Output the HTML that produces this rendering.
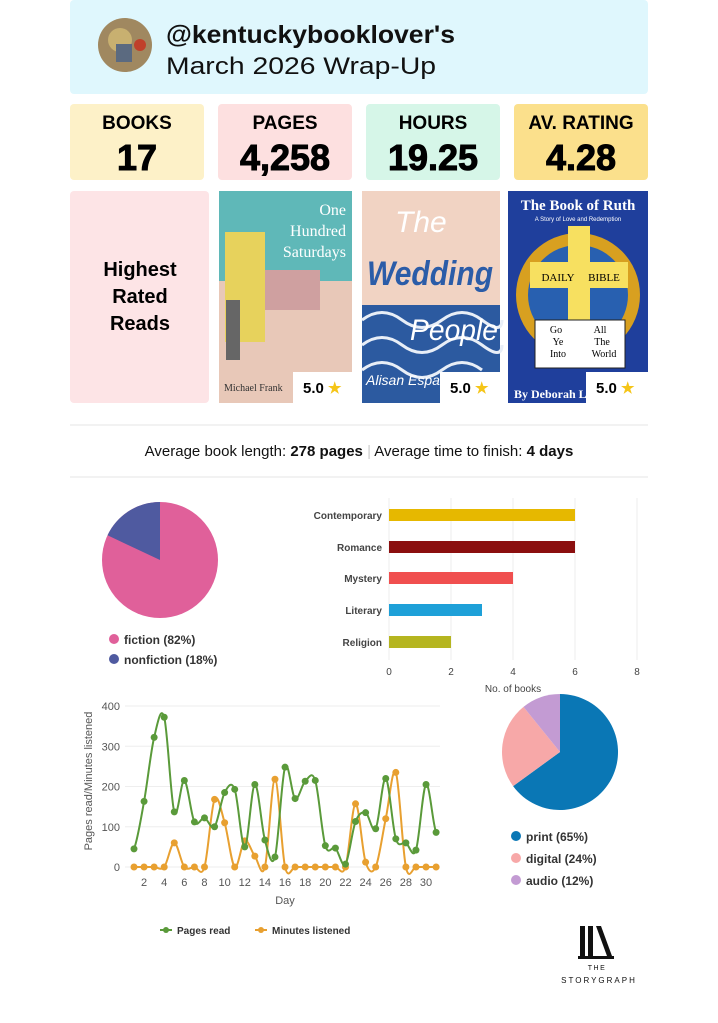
<!DOCTYPE html>
<html><head><meta charset="utf-8"><style>
html,body{margin:0;padding:0;background:#fff}
svg{display:block;font-family:"Liberation Sans",sans-serif}
</style></head><body>
<svg id="s" width="718" height="1023" viewBox="0 0 718 1023" xmlns="http://www.w3.org/2000/svg">
<rect x="70" y="0" width="578" height="94" rx="4" fill="#dff7fd"/>
<circle cx="125" cy="45" r="27" fill="#a08860"/>
<circle cx="120" cy="40" r="12" fill="#c8b070"/>
<rect x="116" y="44" width="16" height="18" fill="#5b6a80"/>
<circle cx="140" cy="45" r="6" fill="#c0402a"/>
<text x="166" y="43" font-size="25" font-weight="bold" fill="#111" textLength="289" lengthAdjust="spacingAndGlyphs">@kentuckybooklover's</text>
<text x="166" y="74" font-size="24" fill="#111" textLength="270" lengthAdjust="spacingAndGlyphs">March 2026 Wrap-Up</text>

<rect x="70" y="104" width="134" height="76" rx="4" fill="#fdf1c8"/>
<rect x="218" y="104" width="134" height="76" rx="4" fill="#fde0e0"/>
<rect x="366" y="104" width="134" height="76" rx="4" fill="#d6f6e8"/>
<rect x="514" y="104" width="134" height="76" rx="4" fill="#fbe08c"/>
<g font-weight="bold" text-anchor="middle" fill="#000">
<text x="137" y="129" font-size="19">BOOKS</text>
<text x="285" y="129" font-size="19">PAGES</text>
<text x="433" y="129" font-size="19">HOURS</text>
<text x="581" y="129" font-size="19">AV. RATING</text>
<g stroke="#000" stroke-width="1">
<text x="137" y="170" font-size="36">17</text>
<text x="285" y="170" font-size="36">4,258</text>
<text x="433" y="170" font-size="36">19.25</text>
<text x="581" y="170" font-size="36">4.28</text></g>
</g>

<rect x="70" y="191" width="139" height="212" rx="4" fill="#fde4e6"/>
<g font-weight="bold" font-size="20" text-anchor="middle" fill="#000">
<text x="140" y="276">Highest</text><text x="140" y="303">Rated</text><text x="140" y="330">Reads</text></g>

<rect x="219" y="191" width="133" height="212" fill="#e8c8b8"/>
<rect x="219" y="191" width="133" height="90" fill="#5fb8b8"/>
<rect x="225" y="232" width="40" height="110" fill="#e7d25c"/>
<rect x="265" y="270" width="55" height="40" fill="#cfa0a0"/>
<rect x="226" y="300" width="14" height="60" fill="#666"/>
<g font-family="Liberation Serif,serif" fill="#fff" font-size="16" text-anchor="end">
<text x="346" y="215">One</text><text x="346" y="236">Hundred</text><text x="346" y="257">Saturdays</text></g>
<text x="224" y="391" font-family="Liberation Serif,serif" font-size="10" fill="#333">Michael Frank</text>

<rect x="362" y="191" width="138" height="212" fill="#f1d3c3"/>
<rect x="362" y="305" width="138" height="98" fill="#2c5aa0"/>
<path d="M362 320 q20 -15 40 0 t40 0 t40 0 t20 0 M362 345 q20 -15 40 0 t40 0 t40 0 t20 0 M362 370 q20 -15 40 0 t40 0 t40 0" stroke="#e8eef7" stroke-width="3" fill="none"/>
<text x="395" y="232" font-size="30" fill="#fff" font-style="italic">The</text>
<text x="367" y="285" font-size="34" fill="#2b5ca8" font-style="italic" font-weight="bold" textLength="126" lengthAdjust="spacingAndGlyphs">Wedding</text>
<text x="410" y="340" font-size="30" fill="#fff" font-style="italic" textLength="88" lengthAdjust="spacingAndGlyphs">People</text>
<text x="366" y="385" font-size="14" fill="#fff" font-style="italic">Alisan Espach</text>

<rect x="508" y="191" width="140" height="212" fill="#1f3f9c"/>
<circle cx="578" cy="295" r="62" fill="#d8a020"/>
<circle cx="578" cy="295" r="50" fill="#2860b0"/>
<rect x="568" y="226" width="22" height="120" fill="#f7e060"/>
<rect x="530" y="262" width="98" height="26" fill="#f7e060"/>
<text x="578" y="210" font-family="Liberation Serif,serif" font-weight="bold" font-size="15" fill="#fff" text-anchor="middle">The Book of Ruth</text>
<text x="578" y="221" font-size="6" fill="#fff" text-anchor="middle">A Story of Love and Redemption</text>
<text x="558" y="281" font-family="Liberation Serif,serif" font-size="11" text-anchor="middle">DAILY</text>
<text x="604" y="281" font-family="Liberation Serif,serif" font-size="11" text-anchor="middle">BIBLE</text>
<rect x="535" y="320" width="90" height="48" fill="#fff" stroke="#222"/>
<g font-family="Liberation Serif,serif" font-size="10" text-anchor="middle"><text x="556" y="333">Go</text><text x="558" y="345">Ye</text><text x="558" y="357">Into</text><text x="600" y="333">All</text><text x="602" y="345">The</text><text x="604" y="357">World</text></g>
<text x="514" y="398" font-family="Liberation Serif,serif" font-weight="bold" font-size="12" fill="#fff">By Deborah L</text>
<g font-weight="bold" font-size="15">
<rect x="293" y="372" width="60" height="31" fill="#fff"/><text x="303" y="393">5.0 <tspan fill="#f5c518">★</tspan></text>
<rect x="440" y="372" width="60" height="31" fill="#fff"/><text x="450" y="393">5.0 <tspan fill="#f5c518">★</tspan></text>
<rect x="586" y="372" width="62" height="31" fill="#fff"/><text x="596" y="393">5.0 <tspan fill="#f5c518">★</tspan></text></g>

<line x1="70" y1="425" x2="648" y2="425" stroke="#e6e6e6"/>
<line x1="70" y1="477" x2="648" y2="477" stroke="#e6e6e6"/>
<text x="359" y="456" font-size="15" text-anchor="middle" fill="#111">Average book length: <tspan font-weight="bold">278 pages</tspan>  <tspan fill="#ccc">|</tspan>  Average time to finish: <tspan font-weight="bold">4 days</tspan></text>

<circle cx="160" cy="560" r="58" fill="#e0609a"/>
<path d="M160 560 L160 502 A58 58 0 0 0 107.5 535.3 Z" fill="#4f5aa0"/>
<circle cx="114" cy="639" r="5" fill="#e0609a"/><text x="124" y="644" font-size="12" font-weight="bold" fill="#333">fiction (82%)</text>
<circle cx="114" cy="659" r="5" fill="#4f5aa0"/><text x="124" y="664" font-size="12" font-weight="bold" fill="#333">nonfiction (18%)</text>

<g stroke="#eee"><line x1="389" y1="498" x2="389" y2="660"/><line x1="451" y1="498" x2="451" y2="660"/><line x1="513" y1="498" x2="513" y2="660"/><line x1="575" y1="498" x2="575" y2="660"/><line x1="637" y1="498" x2="637" y2="660"/></g>
<rect x="389" y="509" width="186" height="12" fill="#e6b800"/>
<rect x="389" y="541" width="186" height="12" fill="#8b0f0f"/>
<rect x="389" y="572" width="124" height="12" fill="#f04f4f"/>
<rect x="389" y="604" width="93" height="12" fill="#1ea0d8"/>
<rect x="389" y="636" width="62" height="12" fill="#b5b520"/>
<g font-size="10" font-weight="bold" fill="#444" text-anchor="end">
<text x="382" y="519">Contemporary</text><text x="382" y="551">Romance</text><text x="382" y="582">Mystery</text><text x="382" y="614">Literary</text><text x="382" y="646">Religion</text></g>
<g font-size="10" fill="#444" text-anchor="middle"><text x="389" y="675">0</text><text x="451" y="675">2</text><text x="513" y="675">4</text><text x="575" y="675">6</text><text x="637" y="675">8</text>
<text x="513" y="692">No. of books</text></g>

<g id="lc"></g>
<g font-size="11" fill="#555">
<text x="97" y="786" transform="rotate(-90 92 786)" text-anchor="middle">Pages read/Minutes listened</text>
<text x="285" y="904" text-anchor="middle">Day</text></g>
<line x1="160" y1="930" x2="172" y2="930" stroke="#5a9a3a" stroke-width="2"/><circle cx="166" cy="930" r="3" fill="#5a9a3a"/>
<text x="177" y="934" font-size="10" font-weight="bold" fill="#333">Pages read</text>
<line x1="255" y1="930" x2="267" y2="930" stroke="#e8a030" stroke-width="2"/><circle cx="261" cy="930" r="3" fill="#e8a030"/>
<text x="272" y="934" font-size="10" font-weight="bold" fill="#333">Minutes listened</text>

<path d="M560 752 L560 694 A58 58 0 1 1 513.1 786.1 Z" fill="#0a77b5"/>
<path d="M560 752 L513.1 786.1 A58 58 0 0 1 523.5 706.9 Z" fill="#f7a8a8"/>
<path d="M560 752 L523.5 706.9 A58 58 0 0 1 560 694 Z" fill="#c39bd3"/>
<circle cx="516" cy="836" r="5" fill="#0a77b5"/><text x="526" y="841" font-size="12" font-weight="bold" fill="#333">print (65%)</text>
<circle cx="516" cy="858" r="5" fill="#f7a8a8"/><text x="526" y="863" font-size="12" font-weight="bold" fill="#333">digital (24%)</text>
<circle cx="516" cy="880" r="5" fill="#c39bd3"/><text x="526" y="885" font-size="12" font-weight="bold" fill="#333">audio (12%)</text>

<rect x="580" y="926" width="5" height="30" fill="#111"/><rect x="588" y="926" width="5" height="30" fill="#111"/>
<path d="M596 926 L601 926 L612 956 L607 956 Z" fill="#111"/>
<rect x="578" y="956" width="36" height="3" fill="#111"/>
<text x="597" y="970" font-size="7" text-anchor="middle" letter-spacing="1.5" fill="#111">THE</text>
<text x="599" y="983" font-size="8" text-anchor="middle" letter-spacing="2" fill="#111">STORYGRAPH</text>
</svg>
<script>
(function(){
var g=document.getElementById('lc'),h='';
var G=[45,163,322,372,137,215,112,122,100,185,193,50,205,67,25,248,170,213,215,53,47,7,113,135,95,220,70,60,42,205,86];
var O=[0,0,0,0,60,0,0,0,168,110,0,65,27,0,218,0,0,0,0,0,0,0,157,12,0,120,235,0,0,0,0];
function X(d){return 134+(d-1)*10.07}function Y(v){return 867-v*0.4025}
for(var i=0;i<=4;i++){var y=Y(i*100);h+='<line x1="125" x2="440" y1="'+y+'" y2="'+y+'" stroke="#eee"/>';
h+='<text x="120" y="'+(y+4)+'" font-size="11" fill="#555" text-anchor="end">'+(i*100)+'</text>';}
for(var d=2;d<=30;d+=2)h+='<text x="'+X(d)+'" y="886" font-size="11" fill="#555" text-anchor="middle">'+d+'</text>';
function ser(a,c){var n=a.length,p='M'+X(1)+' '+Y(a[0]);
for(var i=0;i<n-1;i++){var x0=X(i+1),x1=X(i+2),y0=Y(a[i]),y1=Y(a[i+1]);
var ym=Y(a[Math.max(i-1,0)]),yp=Y(a[Math.min(i+2,n-1)]);
var c1y=y0+(y1-ym)/6,c2y=y1-(yp-y0)/6;
p+=' C'+(x0+(x1-x0)/3)+' '+c1y+' '+(x1-(x1-x0)/3)+' '+c2y+' '+x1+' '+y1;}
var s='<path d="'+p+'" fill="none" stroke="'+c+'" stroke-width="2"/>';
for(i=0;i<n;i++)s+='<circle cx="'+X(i+1)+'" cy="'+Y(a[i])+'" r="3.5" fill="'+c+'"/>';return s;}
h+=ser(O,'#e8a030')+ser(G,'#5a9a3a');
g.innerHTML=h;})();
</script>
</body></html>
